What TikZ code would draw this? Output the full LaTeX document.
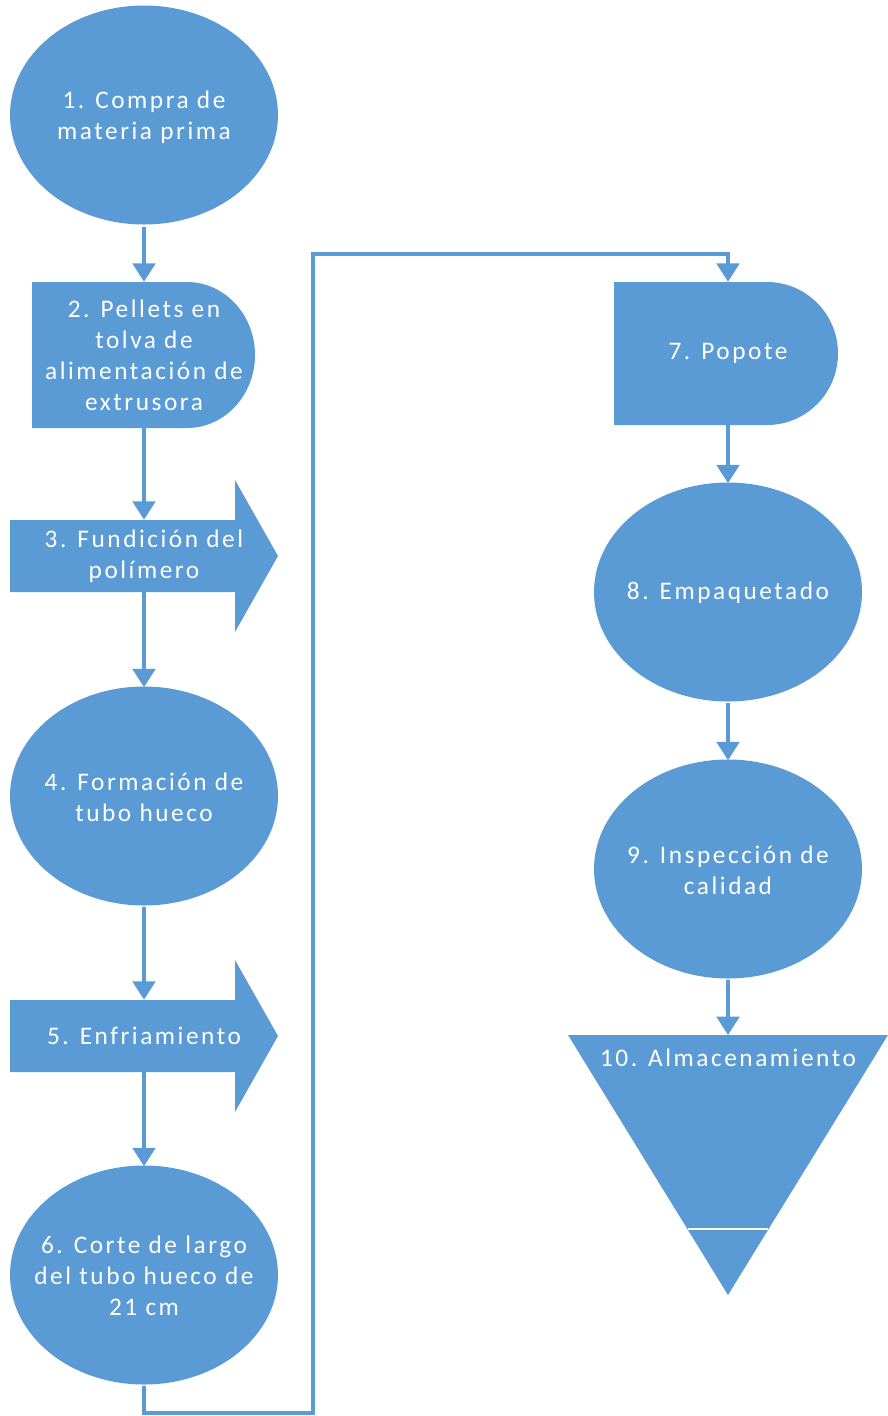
\documentclass[tikz,border=0pt]{standalone}
\usepackage{fontspec}
\setmainfont[LetterSpace=10]{Carlito}
\usetikzlibrary{arrows.meta}
\definecolor{azul}{HTML}{5B9BD5}
\newcommand\pxl{0.025cm}
\newcommand\lc{144}
\newcommand\rc{728}

\tikzset{
	proc/.style={rectangle,minimum height=219*\pxl,inner sep=0pt,text=white,align=center},
	hold/.style={rectangle,minimum width=224*\pxl,text=white,align=center,inner sep=0pt},
	move/.style={rectangle,minimum height=72*\pxl,text=white,align=center,inner sep=0pt},
	link/.style={draw=azul,line width=2.4pt,-{Triangle[width=16pt,length=13pt]}}
}

\begin{document}
\begin{tikzpicture}[x=\pxl,y=-\pxl,font=\fontsize{18}{22}\selectfont]
\useasboundingbox (0,0) rectangle (888,1416);
\foreach \x/\y in {\lc/115, \lc/796, \lc/1275, \rc/592, \rc/869} {
	\fill[azul] (\x,\y) ellipse[x radius=134,y radius=109.5];
}
\foreach \y in {556,1036} {
	\fill[azul] (10,\y-36) -- (235,\y-36) -- (235,\y-76) -- (278,\y) -- (235,\y+76) -- (235,\y+36) -- (10,\y+36) -- cycle;
}
\foreach \l/\w/\r/\h in {32/155/68/73, 614/153/71/71.5} {
	\fill[azul] (\l,282) -- ++(\w,0) arc[start angle=-90,end angle=90,x radius=\r,y radius=\h] -- (\l,282+2*\h) -- cycle;
}
\fill[azul] (568,1035) -- (888,1035) -- (728,1295) -- cycle;
\draw[white,line width=1.2pt] (688,1229) -- (768,1229);

\node[proc] (s1) at (\lc,117) {1. Compra de\\materia prima};
\node[hold,minimum height=146*\pxl] (s2) at (\lc,355) {2. Pellets en\\tolva de\\alimentación de\\extrusora};
\node[move] (s3) at (\lc,556) {3. Fundición del\\polímero};
\node[proc] (s4) at (\lc,797) {4. Formación de\\tubo hueco};
\node[move] (s5) at (\lc,1036) {5. Enfriamiento};
\node[proc] (s6) at (\lc,1276) {6. Corte de largo\\del tubo hueco de\\21 cm};
\node[hold,minimum width=228*\pxl,minimum height=143*\pxl] (s7) at (\rc,353.5) {7. Popote};
\node[proc] (s8) at (\rc,593) {8. Empaquetado};
\node[proc] (s9) at (\rc,870) {9. Inspección de\\calidad};
\node[text=white,inner sep=0pt] (s10) at (\rc,1058) {10. Almacenamiento};
\coordinate (t10) at (\rc,1035);
\coordinate (c1) at (313,1413);
\coordinate (c2) at (313,254);

\draw[link] (s1.south) -- (s2.north);
\draw[link] (s2.south) -- (s3.north);
\draw[link] (s3.south) -- (s4.north);
\draw[link] (s4.south) -- (s5.north);
\draw[link] (s5.south) -- (s6.north);
\draw[link] (s6.south) |- (c1) -- (c2) -| (s7.north);
\draw[link] (s7.south) -- (s8.north);
\draw[link] (s8.south) -- (s9.north);
\draw[link] (s9.south) -- (t10);
\end{tikzpicture}
\end{document}
